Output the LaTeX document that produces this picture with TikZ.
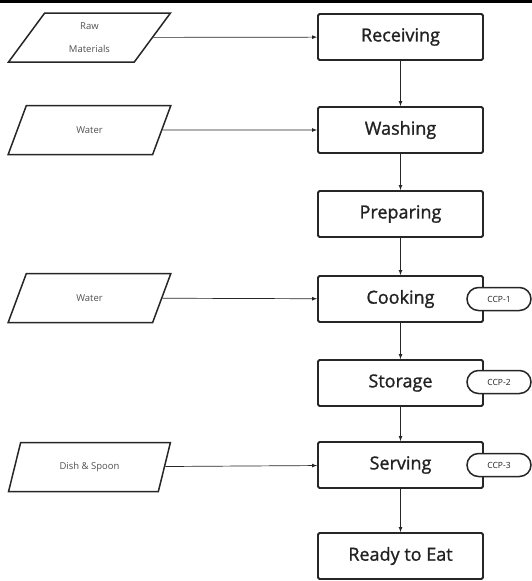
\documentclass[tikz,border=0pt]{standalone}
\usepackage{fontspec}
\setmainfont{Open Sans}
\newfontfamily\stepfont{Open Sans}[FakeBold=1.2]
\usetikzlibrary{arrows,positioning,shapes.geometric,shapes.misc}
\definecolor{stroke}{HTML}{262626}
\definecolor{ink}{HTML}{222222}
\definecolor{faint}{HTML}{505050}

\begin{document}
\begin{tikzpicture}[x=1pt, y=-1pt,
    stepbox/.style={draw=stroke, line width=1.8pt, rounded corners=1.5pt, fill=white,
      minimum width=165pt, minimum height=46pt, inner sep=0pt, text=ink,
      font=\stepfont\fontsize{18}{21}\selectfont},
    inputbox/.style={trapezium, trapezium stretches=true, trapezium left angle=61,
      trapezium right angle=119, draw=stroke, line width=1.5pt, fill=white,
      minimum width=163pt, minimum height=49pt, inner sep=0pt, text=faint,
      align=center, font=\fontsize{9.5}{11}\selectfont},
    ccp/.style={rounded rectangle, draw=stroke, line width=1.5pt, fill=white,
      minimum width=64pt, minimum height=23pt, inner sep=0pt, text=ink,
      font=\fontsize{8.5}{10}\selectfont},
    flow/.style={->, >=latex, line width=0.7pt, draw=stroke}]
    \useasboundingbox (0,0) rectangle (532,581);
    \fill[black] (0,0) rectangle (532,3);

    % Inputs
    \node[inputbox] (raw) at (89.5,37.5) {Raw\\[12pt]Materials};
    \node[inputbox] (water1) at (89.5,130) {Water};
    \node[inputbox] (water2) at (89.5,298) {Water};
    \node[inputbox] (dish) at (89.5,467) {Dish \& Spoon};

    % Process steps
    \node[stepbox] (recv) at (400.5,37) {Receiving};
    \node[stepbox] (wash) at (400.5,130) {Washing};
    \node[stepbox] (prep) at (400.5,214) {Preparing};
    \node[stepbox] (cook) at (400.5,299) {Cooking};
    \node[stepbox] (stor) at (400.5,383) {Storage};
    \node[stepbox] (serv) at (400.5,465) {Serving};
    \node[stepbox] (ready) at (400.5,556) {Ready to Eat};

    % Critical control points
    \node[ccp] (ccp1) at (499,299) {CCP-1};
    \node[ccp] (ccp2) at (499,382) {CCP-2};
    \node[ccp] (ccp3) at (499,465) {CCP-3};

    % Connections
    \draw[flow] (raw) -- (recv);
    \draw[flow] (water1) -- (wash);
    \draw[flow] (water2) -- (cook);
    \draw[flow] (dish) -- (serv);
    \draw[flow] (recv) -- (wash);
    \draw[flow] (wash) -- (prep);
    \draw[flow] (prep) -- (cook);
    \draw[flow] (cook) -- (stor);
    \draw[flow] (stor) -- (serv);
    \draw[flow] (serv) -- (ready);
\end{tikzpicture}
\end{document}
